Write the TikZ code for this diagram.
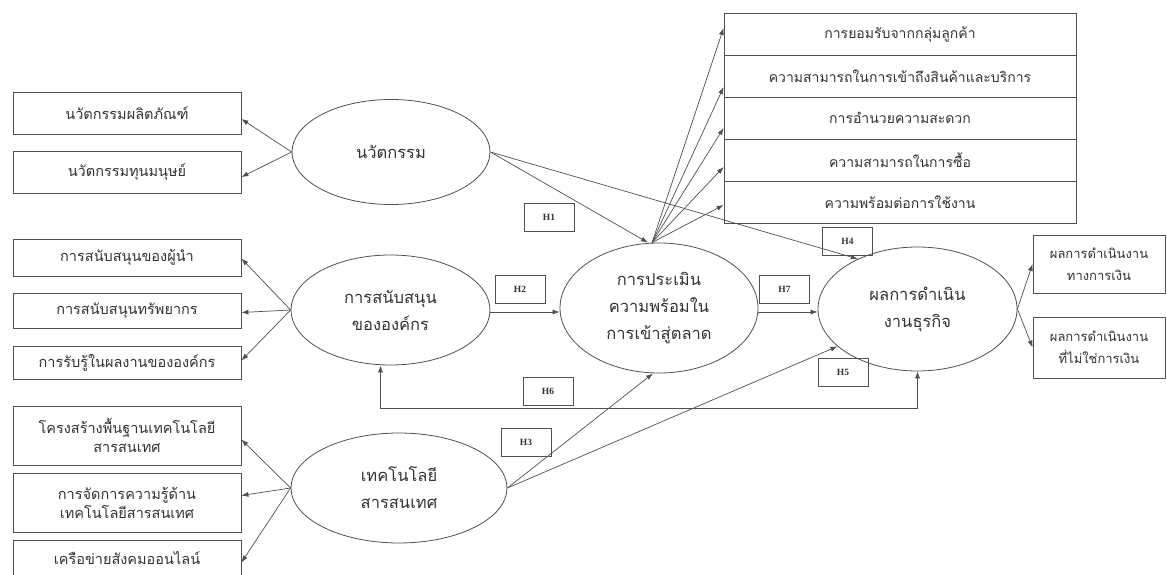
\documentclass[tikz,border=0pt]{standalone}
\usepackage{fontspec}
\setmainfont{Liberation Serif}
\newfontfamily\thaifont[Script=Thai]{Loma}
\usetikzlibrary{shapes.geometric,arrows.meta,calc}
\definecolor{linegray}{HTML}{505050}
\definecolor{textgray}{HTML}{333333}
\begin{document}
\begin{tikzpicture}[x=1pt,y=-1pt,
  thai/.style={font=\thaifont\fontsize{14.5}{20}\selectfont, text=textgray},
  lbox/.style={thai, draw=linegray, line width=0.8pt, rectangle, minimum width=228pt, inner sep=0pt, align=center},
  rbox/.style={thai, font=\thaifont\fontsize{14}{20}\selectfont, draw=linegray, line width=0.8pt, rectangle, minimum width=352pt, minimum height=42pt, inner sep=0pt, align=center},
  obox/.style={thai, font=\thaifont\fontsize{13}{22}\selectfont, draw=linegray, line width=0.8pt, rectangle, minimum width=132pt, inner sep=0pt, align=center},
  ell/.style={thai, font=\thaifont\fontsize{16.5}{27}\selectfont, draw=linegray, line width=0.8pt, ellipse, inner sep=0pt, align=center},
  hbox/.style={draw=linegray, line width=0.8pt, rectangle, minimum width=50pt, minimum height=28pt, inner sep=0pt, font=\bfseries\fontsize{9.5}{10}\selectfont, text=textgray},
  arr/.style={draw=linegray, line width=0.7pt, -{Latex[length=7pt,width=5pt]}},
  darr/.style={draw=linegray, line width=0.7pt, {Latex[length=7pt,width=5pt]}-{Latex[length=7pt,width=5pt]}}]
\useasboundingbox (0,0) rectangle (1167,575);
\fill[white] (0,0) rectangle (1167,575);

% left boxes
\node[lbox, minimum height=42pt] (b1) at (127,113) {นวัตกรรมผลิตภัณฑ์};
\node[lbox, minimum height=42pt] (b2) at (127,172) {นวัตกรรมทุนมนุษย์};
\node[lbox, minimum height=37pt] (b3) at (127,257.5) {การสนับสนุนของผู้นำ};
\node[lbox, minimum height=35pt] (b4) at (127,310.5) {การสนับสนุนทรัพยากร};
\node[lbox, minimum height=33pt] (b5) at (127,362.5) {การรับรู้ในผลงานขององค์กร};
\node[lbox, minimum height=59pt, font=\thaifont\fontsize{14.5}{19}\selectfont] (b6) at (127,435.5) {โครงสร้างพื้นฐานเทคโนโลยี\\สารสนเทศ};
\node[lbox, minimum height=59pt, font=\thaifont\fontsize{14.5}{19}\selectfont] (b7) at (127,502.5) {การจัดการความรู้ด้าน\\เทคโนโลยีสารสนเทศ};
\node[lbox, minimum height=37pt] (b8) at (127,558.5) {เครือข่ายสังคมออนไลน์};

% ellipses
\node[ell, minimum width=198pt, minimum height=105pt] (e1) at (391,152) {นวัตกรรม};
\node[ell, minimum width=199pt, minimum height=110pt] (e2) at (390.5,310) {การสนับสนุน\\ขององค์กร};
\node[ell, minimum width=198pt, minimum height=130pt] (e3) at (659,308) {การประเมิน\\ความพร้อมใน\\การเข้าสู่ตลาด};
\node[ell, minimum width=199pt, minimum height=124pt] (e4) at (917.5,309) {ผลการดำเนิน\\งานธุรกิจ};
\node[ell, minimum width=216pt, minimum height=110pt] (e5) at (399,488) {เทคโนโลยี\\สารสนเทศ};

% top-right column
\node[rbox] (r1) at (900,34) {การยอมรับจากกลุ่มลูกค้า};
\node[rbox] (r2) at (900,76) {ความสามารถในการเข้าถึงสินค้าและบริการ};
\node[rbox] (r3) at (900,118) {การอำนวยความสะดวก};
\node[rbox] (r4) at (900,160) {ความสามารถในการซื้อ};
\node[rbox] (r5) at (900,202) {ความพร้อมต่อการใช้งาน};

% outcome boxes
\node[obox, minimum height=58pt] (o1) at (1099,264) {ผลการดำเนินงาน\\ทางการเงิน};
\node[obox, minimum height=61pt] (o2) at (1099,347.5) {ผลการดำเนินงาน\\ที่ไม่ใช่การเงิน};

% hypothesis labels
\node[hbox] (h1) at (549,217.5) {H1};
\node[hbox] (h2) at (520,289.5) {H2};
\node[hbox] (h3) at (526,442) {H3};
\node[hbox] (h4) at (847.5,241) {H4};
\node[hbox] (h5) at (843,372.5) {H5};
\node[hbox] (h6) at (548,391) {H6};
\node[hbox] (h7) at (784.5,289.5) {H7};

% measurement arrows
\draw[arr] (e1.west) -- ([yshift=-6pt]b1.east);
\draw[arr] (e1.west) -- ([yshift=-5pt]b2.east);
\draw[arr] (e2.west) -- ([yshift=-1pt]b3.east);
\draw[arr] (e2.west) -- ([yshift=-2pt]b4.east);
\draw[arr] (e2.west) -- ([yshift=2pt]b5.east);
\draw[arr] (e5.west) -- ([yshift=-4pt]b6.east);
\draw[arr] (e5.west) -- ([yshift=7pt]b7.east);
\draw[arr] (e5.west) -- ([yshift=-4pt]b8.east);

\coordinate (e3top) at ([xshift=-7pt]e3.north);
\draw[arr] (e3top) -- ([yshift=6pt]r1.west);
\draw[arr] (e3top) -- ([yshift=-11pt]r2.west);
\draw[arr] (e3top) -- ([yshift=-10pt]r3.west);
\draw[arr] (e3top) -- ([yshift=-7pt]r4.west);
\draw[arr] (e3top) -- ([yshift=-3pt]r5.west);

\draw[arr] (e4.east) -- (o1.west);
\draw[arr] (e4.east) -- (o2.west);

% structural paths
\draw[arr] (e1.east) -- ([xshift=-11pt]e3.north);
\draw[arr] (e1.east) -- (e4.140);
\draw[arr] ([yshift=-2pt]e2.east) -- ([yshift=-2pt]e2.east -| e3.west);
\draw[arr] ([yshift=-4pt]e3.east) -- ([yshift=-4pt]e3.east -| e4.west);
\draw[arr] (e5.east) -- ([xshift=-6pt]e3.south);
\draw[arr] (e5.east) -- (e4.205);
\coordinate (h6r) at ($(e4.south)+(0,37)$);
\draw[darr] ([xshift=-10pt]e2.south) |- (h6r) -- (e4.south);
\end{tikzpicture}
\end{document}
